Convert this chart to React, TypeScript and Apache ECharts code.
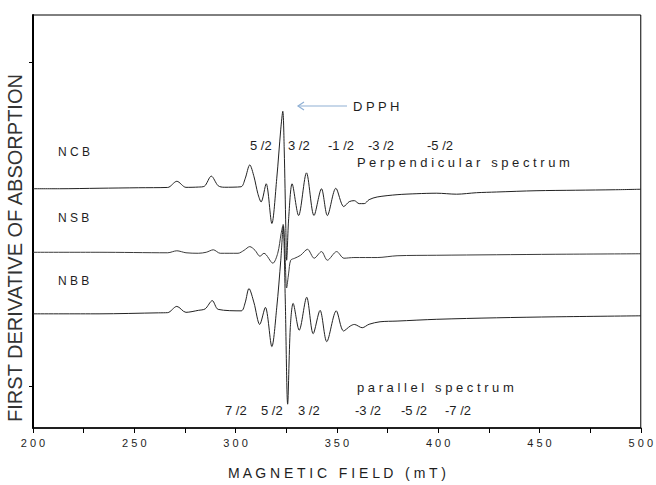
import React, { useEffect, useRef } from "react";
import * as echarts from "echarts";

// Magnetic field (mT) and first-derivative signal (arbitrary units, stacked offsets)
const fieldNCB = [200, 213.0, 232.6, 252.2, 266.5, 271.0, 275.5, 281.6, 284.6, 288.0, 291.4, 294.4, 302.7, 304.7, 307.0, 309.1, 311.0, 312.6, 315.1, 317.9, 320.3, 322.3, 323.3, 324.0, 324.8, 325.2, 326.2, 327.9, 331.1, 335.0, 338.7, 342.4, 345.3, 349.5, 353.4, 356.1, 358.6, 361.0, 363.5, 365.9, 369.9, 379.7, 389.5, 399.3, 409.1, 418.9, 428.7, 448.3, 467.9, 487.5, 500];
const signalNCB = [241, 241, 241.5, 242, 242.3, 248.5, 242.4, 242.7, 243.5, 253.7, 244, 242.5, 243, 251, 265, 253, 236, 227.7, 246, 206, 251, 301, 319, 281, 201, 169, 211, 246, 214, 257, 214, 241, 214, 241.5, 223, 228, 229, 226, 226, 230, 232.7, 235, 236, 236.5, 235.5, 237, 237.7, 239, 239.5, 240, 240.5];

const fieldNSB = [200, 232.6, 266.5, 271.0, 275.5, 281.6, 285.5, 289.0, 292.4, 301.2, 304.2, 307.0, 309.6, 312.0, 314.0, 318.4, 320.8, 322.5, 323.5, 324.3, 325.2, 326.2, 327.2, 329.2, 332.1, 335.5, 338.8, 342.4, 345.3, 349.9, 353.5, 358.4, 369.9, 379.7, 399.3, 428.7, 458.1, 500];
const signalNSB = [177, 177, 176.5, 178.5, 176.5, 176, 177, 179.5, 176, 176, 179, 182.7, 179, 173, 176, 166, 176, 196, 205, 181, 141, 156, 169, 171, 174, 180, 171, 177.7, 169, 177.7, 171, 171.7, 171.7, 173.5, 174, 174.5, 175, 175.5];

const fieldNBB = [200, 232.6, 262.0, 266.5, 271.0, 275.5, 281.6, 285.0, 288.5, 291.4, 302.8, 304.7, 306.6, 309.1, 311.9, 314.7, 317.9, 320.3, 322.3, 323.5, 324.5, 325.7, 327.0, 328.4, 331.4, 335.1, 338.3, 341.7, 345.0, 349.7, 353.3, 356.6, 358.6, 362.5, 365.9, 371.3, 379.7, 399.3, 428.7, 458.1, 500];
const signalNBB = [115, 115, 116, 116.2, 122.5, 116.5, 118.5, 120, 128.3, 119.5, 118, 126, 140.5, 126, 104.3, 121.5, 82, 121, 169, 203, 131, 24, 101, 125.5, 98.5, 131.7, 95, 118.5, 87, 118, 97.7, 102.7, 104.3, 101, 104.5, 107, 107.7, 109.5, 111, 112, 113];

const sampleNames = ["NCB", "NSB", "NBB"];
const xTickLabels = [200, 250, 300, 350, 400, 450, 500];
const perpLabels = ["5 /2", "3 /2", "-1 /2", "-3 /2", "-5 /2"];
const parLabels = ["7 /2", "5 /2", "3 /2", "-3 /2", "-5 /2", "-7 /2"];

const spaced = (s: string) => s.split("").join(" ");
const zip = (a: number[], b: number[]) => a.map((v, i) => [v, b[i]]);

const FONT = "'Liberation Sans', Arial, sans-serif";
const INK = "#1e1e1e";

export default function App() {
  const ref = useRef<HTMLDivElement>(null);
  useEffect(() => {
    if (!ref.current) return;
    const chart = echarts.init(ref.current, undefined, { renderer: "svg" });
    const seriesData = [zip(fieldNCB, signalNCB), zip(fieldNSB, signalNSB), zip(fieldNBB, signalNBB)];
    const labelPos = [
      { x: 58, y: 152 },
      { x: 58, y: 218 },
      { x: 58, y: 281 },
    ];
    const perpX = [250, 288, 328, 368, 427];
    const parX = [225, 261, 298, 355, 401, 445];
    const txt = (text: string, x: number, y: number, size = 13, align = "left") => ({
      type: "text",
      x,
      y,
      style: { text, fontSize: size, fontFamily: FONT, fill: INK, textAlign: align, textVerticalAlign: "middle" },
    });
    const graphics: any[] = [];
    sampleNames.forEach((n, i) => graphics.push(txt(spaced(n), labelPos[i].x, labelPos[i].y, 12)));
    perpLabels.forEach((l, i) => graphics.push(txt(l, perpX[i], 145, 13)));
    parLabels.forEach((l, i) => graphics.push(txt(l, parX[i], 410, 13)));
    graphics.push(txt(spaced("DPPH"), 353, 106, 13));
    graphics.push(txt("P e r p e n d i c u l a r   s p e c t r u m", 357, 162, 13));
    graphics.push(txt("p a r a l l e l   s p e c t r u m", 357, 387, 13));
    graphics.push({
      type: "line",
      shape: { x1: 298, y1: 106, x2: 347, y2: 106 },
      style: { stroke: "#8fb0d4", lineWidth: 1.2 },
    });
    graphics.push({
      type: "polyline",
      shape: { points: [[304, 102], [298, 106], [304, 110]] },
      style: { stroke: "#8fb0d4", lineWidth: 1.2, fill: "none" },
    });
    graphics.push({
      type: "text",
      x: 15,
      y: 248,
      rotation: Math.PI / 2,
      style: {
        text: "FIRST DERIVATIVE OF ABSORPTION",
        fontSize: 20,
        fontFamily: FONT,
        fill: "#333",
        textAlign: "center",
        textVerticalAlign: "middle",
      },
    });

    chart.setOption({
      animation: false,
      backgroundColor: "#fff",
      grid: { left: 33, right: 13, top: 15, bottom: 54, show: true, borderColor: "#000", borderWidth: 1, backgroundColor: "transparent" },
      xAxis: {
        type: "value",
        min: 200,
        max: 500,
        interval: 25,
        axisLine: { lineStyle: { color: "#000", width: 1.5 } },
        axisTick: { show: true, length: 5, lineStyle: { color: "#000" } },
        axisLabel: {
          formatter: (v: number) => (xTickLabels.includes(v) ? spaced(String(v)) : ""),
          fontSize: 11,
          fontFamily: FONT,
          color: INK,
          margin: 9,
        },
        splitLine: { show: false },
        name: "M A G N E T I C   F I E L D   ( m T )",
        nameLocation: "middle",
        nameGap: 38,
        nameTextStyle: { fontSize: 14, fontFamily: FONT, color: INK },
      },
      yAxis: {
        type: "value",
        min: 0,
        max: 416,
        axisLine: { show: true, lineStyle: { color: "#000", width: 2 } },
        axisTick: { show: true, length: 4, customValues: [42, 368], lineStyle: { color: "#000" } },
        axisLabel: { show: false },
        splitLine: { show: false },
      },
      series: seriesData.map((d, i) => ({
        type: "line",
        name: sampleNames[i],
        data: d,
        symbol: "none",
        smooth: 0.3,
        lineStyle: { color: i === 1 ? "#3a3a3a" : "#222", width: 1 },
        z: 3,
      })),
      graphic: graphics,
    });
    return () => chart.dispose();
  }, []);
  return <div ref={ref} style={{ position: "fixed", left: 0, top: 0, width: 656, height: 485 }} />;
}
